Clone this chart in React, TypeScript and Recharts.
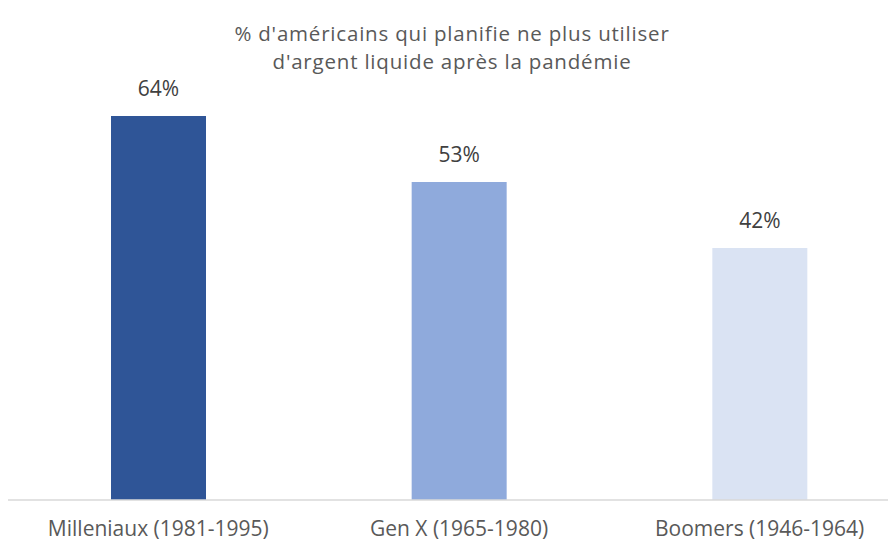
import { BarChart, Bar, XAxis, YAxis, Cell, LabelList } from "recharts";

const categories = ["Milleniaux (1981-1995)", "Gen X (1965-1980)", "Boomers (1946-1964)"];
const values = [64, 53, 42];
const colors = ["#2F5597", "#8FAADC", "#DAE3F3"];
const titleLines = ["% d'américains qui planifie ne plus utiliser", "d'argent liquide après la pandémie"];

const data = categories.map((name, i) => ({ name, value: values[i] }));

const font = "'Open Sans', sans-serif";

export default function App() {
  return (
    <div style={{ position: "relative", width: 888, height: 534, overflow: "hidden", fontFamily: font }}>
      <div
        style={{
          position: "absolute",
          top: 11,
          left: 0,
          width: 888,
          textAlign: "center",
          color: "#595959",
          fontSize: 20.5,
          letterSpacing: 0.8,
        }}
      >
        {titleLines.map((t) => (
          <div key={t} style={{ height: 28, lineHeight: "28px" }}>
            {t}
          </div>
        ))}
      </div>
      <BarChart
        width={902}
        height={534}
        data={data}
        margin={{ top: 72, right: 0, bottom: 0, left: 0 }}
        barCategoryGap={102}
      >
        <XAxis
          dataKey="name"
          height={42}
          tickLine={false}
          tickSize={0}
          tickMargin={21}
          stroke="#D9D9D9"
          strokeWidth={1.5}
          tick={{ fill: "#595959", fontSize: 21, fontFamily: font }}
          interval={0}
        />
        <YAxis hide domain={[0, 70]} />
        <Bar dataKey="value" isAnimationActive={false} barSize={95}>
          {data.map((d, i) => (
            <Cell key={d.name} fill={colors[i]} />
          ))}
          <LabelList
            dataKey="value"
            position="top"
            offset={20}
            formatter={(v: number) => `${v}%`}
            style={{ fill: "#404040", fontSize: 21, fontFamily: font }}
          />
        </Bar>
      </BarChart>
    </div>
  );
}
